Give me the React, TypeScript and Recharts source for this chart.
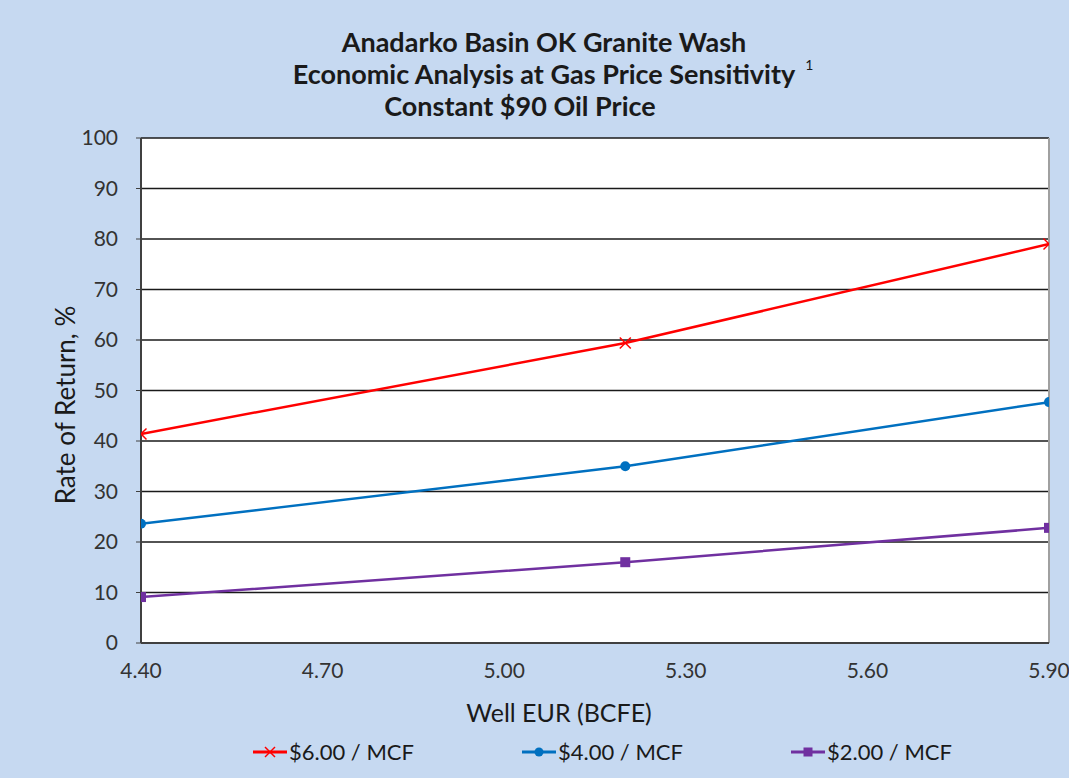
import React from "react";
import {
  LineChart,
  Line,
  XAxis,
  YAxis,
  CartesianGrid,
  ReferenceLine,
} from "recharts";

// Well EUR (BCFE) values for each economic case
const eur = [4.4, 5.2, 5.9];
// Rate of return, % at each gas price
const ror6 = [41.4, 59.4, 79.0];
const ror4 = [23.6, 35.0, 47.7];
const ror2 = [9.1, 16.0, 22.8];

const xTicks = [4.4, 4.7, 5.0, 5.3, 5.6, 5.9];
const yTicks = [0, 10, 20, 30, 40, 50, 60, 70, 80, 90, 100];

const titleLines = [
  "Anadarko Basin OK Granite Wash",
  "Economic Analysis at Gas Price Sensitivity",
  "Constant $90 Oil Price",
];

const seriesNames = ["$6.00 / MCF", "$4.00 / MCF", "$2.00 / MCF"];
const seriesColors = ["#ff0000", "#0070c0", "#7030a0"];

const data = eur.map((x, i) => ({
  eur: x,
  s6: ror6[i],
  s4: ror4[i],
  s2: ror2[i],
}));

const FONT = "Lato, 'Open Sans', sans-serif";

const CrossDot = (props: any) => {
  const { cx, cy, stroke } = props;
  if (cx == null || cy == null) return null;
  const r = 5.5;
  return (
    <g>
      <line x1={cx - r} y1={cy - r} x2={cx + r} y2={cy + r} stroke={stroke} strokeWidth={1.5} />
      <line x1={cx - r} y1={cy + r} x2={cx + r} y2={cy - r} stroke={stroke} strokeWidth={1.5} />
    </g>
  );
};

const CircleDot = (props: any) => {
  const { cx, cy, stroke } = props;
  if (cx == null || cy == null) return null;
  return <circle cx={cx} cy={cy} r={5} fill={stroke} stroke="none" />;
};

const SquareDot = (props: any) => {
  const { cx, cy, stroke } = props;
  if (cx == null || cy == null) return null;
  return <rect x={cx - 5} y={cy - 5} width={10} height={10} fill={stroke} stroke="none" />;
};

const LegendIcon = ({ kind, color }: { kind: number; color: string }) => (
  <svg width={34} height={16} style={{ display: "block" }}>
    <line x1={0} y1={8} x2={34} y2={8} stroke={color} strokeWidth={3} />
    {kind === 0 && (
      <g stroke={color} strokeWidth={1.5}>
        <line x1={12} y1={3} x2={22} y2={13} />
        <line x1={12} y1={13} x2={22} y2={3} />
      </g>
    )}
    {kind === 1 && <circle cx={17} cy={8} r={4.5} fill={color} />}
    {kind === 2 && <rect x={12.5} y={3.5} width={9} height={9} fill={color} />}
  </svg>
);

export default function App() {
  return (
    <div
      style={{
        position: "fixed",
        left: 0,
        top: 0,
        width: 1069,
        height: 778,
        background: "#c6d9f1",
        fontFamily: FONT,
        overflow: "hidden",
      }}
    >
      {titleLines.map((t, i) => {
        const centers = [544, 544, 520];
        return (
          <div
            key={i}
            style={{
              position: "absolute",
              left: centers[i] - 400,
              width: 800,
              top: 26 + i * 32,
              textAlign: "center",
              fontSize: 27,
              fontWeight: 700,
              color: "#1a1a1a",
              lineHeight: "32px",
              whiteSpace: "nowrap",
            }}
          >
            <span style={{ position: "relative" }}>
              {t}
              {i === 1 && (
                <span
                  style={{
                    position: "absolute",
                    left: "100%",
                    top: -8,
                    marginLeft: 10,
                    fontSize: 14,
                    fontWeight: 400,
                  }}
                >
                  1
                </span>
              )}
            </span>
          </div>
        );
      })}

      <div style={{ position: "absolute", left: 0, top: 0 }}>
        <LineChart
          width={1069}
          height={778}
          data={data}
          margin={{ top: 138, right: 20, bottom: 105, left: 81 }}
        >
          <CartesianGrid
            vertical={false}
            stroke="#1a1a1a"
            strokeWidth={1.5}
            fill="#ffffff"
            horizontalValues={yTicks}
          />
          <XAxis
            dataKey="eur"
            type="number"
            domain={[4.4, 5.9]}
            ticks={xTicks}
            tickFormatter={(v: number) => v.toFixed(2)}
            height={30}
            tickLine={false}
            axisLine={{ stroke: "#404040", strokeWidth: 2 }}
            tick={{ fill: "#333", fontSize: 21, fontFamily: FONT }}
            tickMargin={14}
            interval={0}
            allowDataOverflow
          />
          <YAxis
            type="number"
            domain={[0, 100]}
            ticks={yTicks}
            width={60}
            tickSize={5}
            tickLine={{ stroke: "#404040" }}
            axisLine={{ stroke: "#404040", strokeWidth: 2 }}
            tick={{ fill: "#333", fontSize: 21, fontFamily: FONT }}
            tickMargin={18}
            interval={0}
          />
          <ReferenceLine x={5.9} stroke="#a0a0a0" strokeWidth={2} />
          <Line
            dataKey="s6"
            name={seriesNames[0]}
            stroke={seriesColors[0]}
            strokeWidth={2.5}
            dot={<CrossDot />}
            isAnimationActive={false}
          />
          <Line
            dataKey="s4"
            name={seriesNames[1]}
            stroke={seriesColors[1]}
            strokeWidth={2.5}
            dot={<CircleDot />}
            isAnimationActive={false}
          />
          <Line
            dataKey="s2"
            name={seriesNames[2]}
            stroke={seriesColors[2]}
            strokeWidth={2.5}
            dot={<SquareDot />}
            isAnimationActive={false}
          />
        </LineChart>
      </div>

      <div
        style={{
          position: "absolute",
          left: 65,
          top: 405,
          transform: "translate(-50%, -50%) rotate(-90deg)",
          whiteSpace: "nowrap",
          fontSize: 26,
          color: "#1a1a1a",
        }}
      >
        Rate of Return, %
      </div>

      <div
        style={{
          position: "absolute",
          left: 559 - 200,
          width: 400,
          top: 696,
          textAlign: "center",
          fontSize: 25,
          lineHeight: "32px",
          color: "#1a1a1a",
        }}
      >
        Well EUR (BCFE)
      </div>

      {seriesNames.map((n, i) => (
        <div
          key={n}
          style={{
            position: "absolute",
            left: 253 + i * 269,
            top: 752,
            transform: "translateY(-50%)",
            display: "flex",
            alignItems: "center",
            fontSize: 22,
            lineHeight: "26px",
            color: "#1a1a1a",
            whiteSpace: "nowrap",
          }}
        >
          <LegendIcon kind={i} color={seriesColors[i]} />
          <span style={{ marginLeft: 2 }}>{n}</span>
        </div>
      ))}
    </div>
  );
}
